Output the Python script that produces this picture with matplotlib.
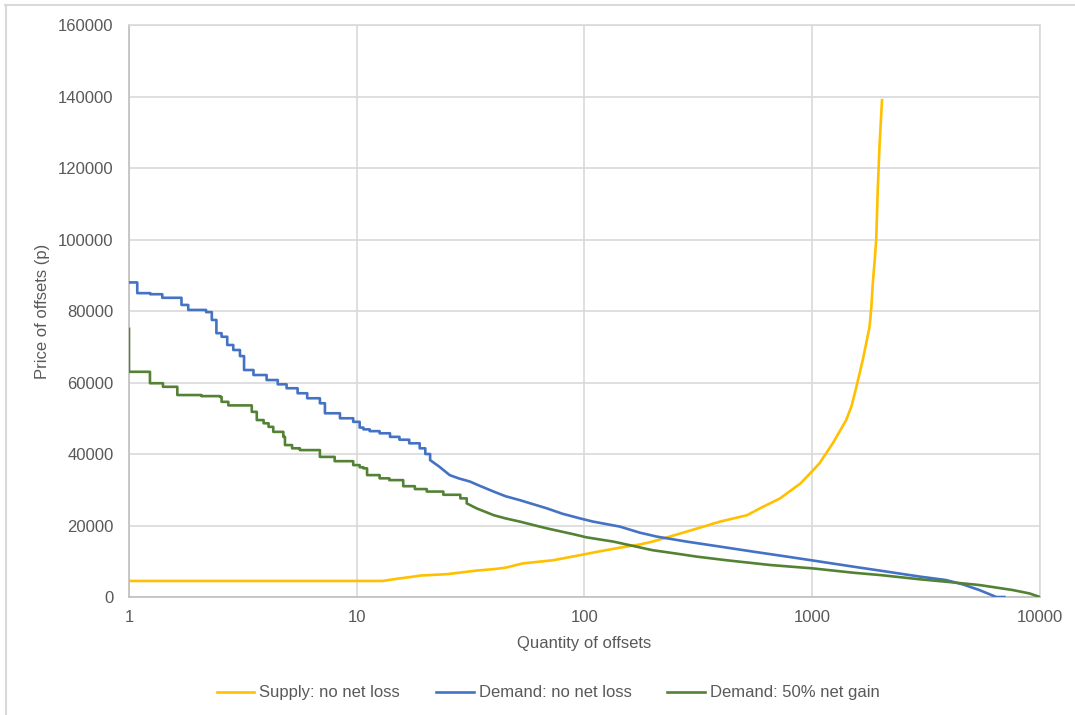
import matplotlib
matplotlib.use("Agg")
import matplotlib.pyplot as plt
from matplotlib.ticker import FuncFormatter, FixedLocator, NullLocator
from matplotlib.lines import Line2D

plt.rcParams['font.family'] = ['Liberation Sans', 'DejaVu Sans']

# Supply: no net loss
supply_qty = [1, 13, 15.4, 17.7, 19, 24.9, 33.6, 39.9, 45, 53.6, 73, 95.5, 117, 143, 175, 199,
              281, 394, 518, 589, 723, 889, 1010, 1076, 1231, 1410, 1490, 1563, 1667, 1720,
              1786, 1820, 1846, 1880, 1910, 1940, 1974, 2025]
supply_price = [4500, 4500, 5200, 5700, 6000, 6400, 7400, 7800, 8200, 9400, 10300, 11700, 12800,
                13800, 14700, 15500, 18300, 21100, 22900, 24800, 27600, 31800, 35500, 37400,
                43000, 49500, 53500, 58800, 66300, 70500, 75600, 81500, 88000, 94000, 100000,
                114000, 126000, 139000]

# Demand: no net loss
demand_qty = [1, 1.087, 1.24, 1.40, 1.70, 1.82, 2.18, 2.31, 2.42, 2.55, 2.70, 2.87, 3.07, 3.2,
              3.52, 4.02, 4.5, 4.92, 5.5, 6.06, 6.89, 7.25, 8.44, 9.65, 10.3, 10.7, 11.4, 12.6,
              14, 15.4, 17, 18.9, 20, 21, 23, 25.6, 28, 31.4, 35, 39.9, 45, 52, 60, 68.4, 80,
              95.5, 109, 143, 175, 208, 281, 394, 550, 776, 1010, 1513, 2128, 2980, 3869, 4600,
              5415, 6000, 6430, 6980]
demand_price = [88000, 85000, 84700, 83700, 81700, 80300, 79700, 77500, 73800, 72800, 70500,
                69100, 67400, 63500, 62100, 60700, 59500, 58400, 57000, 55600, 54200, 51400,
                50000, 49000, 47400, 46900, 46400, 45800, 44800, 44000, 43000, 41600, 40000,
                38300, 36500, 34100, 33200, 32300, 31000, 29500, 28200, 27100, 25900, 24800,
                23300, 22000, 21100, 19700, 18000, 16900, 15500, 14100, 12700, 11300, 10200,
                8500, 7100, 5700, 4750, 3500, 1960, 800, 0, 0]

# Demand: 50% net gain
gain_qty = [1, 1, 1.236, 1.41, 1.63, 2.08, 2.51, 2.55, 2.73, 3.46, 3.64, 3.9, 4.1, 4.3, 4.76,
            4.84, 5.2, 5.63, 6.89, 8.0, 9.65, 10.3, 10.7, 11.1, 12.6, 13.9, 16, 18, 20.3, 24,
            28.5, 30.4, 33.6, 39.9, 45, 52, 60, 68.4, 89, 102, 134, 158, 199, 250, 311, 419,
            655, 1010, 1513, 1985, 2980, 3869, 5415, 7580, 9000, 10000]
gain_price = [75000, 63000, 59800, 58800, 56500, 56200, 56000, 54600, 53600, 51800, 49500,
              48600, 47600, 46200, 44800, 42500, 41600, 41100, 39200, 38000, 36900, 36300,
              36000, 34100, 33200, 32700, 31000, 30200, 29500, 28600, 27600, 26200, 24800,
              22900, 22000, 21100, 20100, 19200, 17600, 16700, 15500, 14500, 13100, 12200,
              11300, 10300, 8950, 8000, 6800, 6150, 4950, 4280, 3360, 1960, 1000, 0]

y_ticks = list(range(0, 160001, 20000))
x_ticks = [1, 10, 100, 1000, 10000]

text_col = '#595959'
grid_col = '#d9d9d9'


# the demand curves are stepped at low quantities and fairly smooth further on
def step_then_line(xs, ys, step_until):
    px, py = [], []
    for i in range(len(xs)):
        px.append(xs[i])
        py.append(ys[i])
        if i + 1 < len(xs) and xs[i + 1] <= step_until:
            px.append(xs[i + 1])
            py.append(ys[i])
    return px, py


fig = plt.figure(figsize=(10.75, 7.15), dpi=100)
ax = fig.add_axes([0.12, 0.165, 0.8474, 0.8])

ax.plot(supply_qty, supply_price, color='#FFC000', lw=1.9, zorder=3, label='Supply: no net loss')
dx, dy = step_then_line(demand_qty, demand_price, 21.5)
ax.plot(dx, dy, color='#4472C4', lw=1.9, zorder=3, label='Demand: no net loss')
gx, gy = step_then_line(gain_qty, gain_price, 31)
ax.plot(gx, gy, color='#548235', lw=1.9, zorder=3, label='Demand: 50% net gain')

ax.set_xscale('log')
ax.set_xlim(1, 10000)
ax.set_ylim(0, 160000)
ax.xaxis.set_major_locator(FixedLocator(x_ticks))
ax.xaxis.set_minor_locator(NullLocator())
ax.yaxis.set_major_locator(FixedLocator(y_ticks))
ax.xaxis.set_major_formatter(FuncFormatter(lambda v, p: '%d' % v))
ax.yaxis.set_major_formatter(FuncFormatter(lambda v, p: '%d' % v))

ax.grid(True, color=grid_col, lw=1.2)
ax.set_axisbelow(True)
ax.tick_params(length=0, labelsize=12, labelcolor=text_col)
ax.tick_params(axis='y', pad=11)
ax.tick_params(axis='x', pad=9)
for s in ['top', 'right']:
    ax.spines[s].set_color(grid_col)
    ax.spines[s].set_linewidth(1.2)
for s in ['left', 'bottom']:
    ax.spines[s].set_color('#bfbfbf')
    ax.spines[s].set_linewidth(1.2)

ax.set_xlabel('Quantity of offsets', fontsize=12, color=text_col, labelpad=8)
ax.set_ylabel('Price of offsets (p)', fontsize=12, color=text_col, labelpad=6)

fig.legend(loc='center', bbox_to_anchor=(0.51, 0.031), ncol=3, frameon=False, fontsize=12,
           handlelength=2.25, columnspacing=2.15, handletextpad=0.3, labelcolor=text_col)

# light frame around the chart area (only top and left visible in the crop)
fig.add_artist(Line2D([0.005, 1.0], [0.993, 0.993], color=grid_col, lw=1.5))
fig.add_artist(Line2D([0.0055, 0.0055], [0.0, 0.993], color=grid_col, lw=1.5))

fig.savefig('out.png', dpi=100)
